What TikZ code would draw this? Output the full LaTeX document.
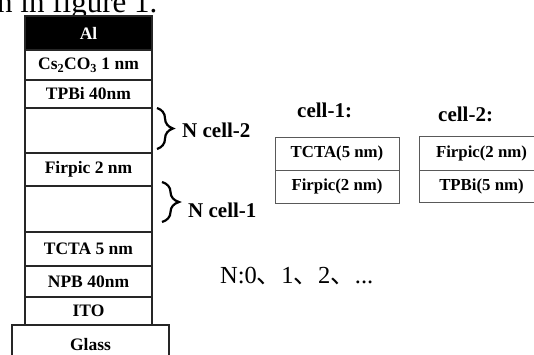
\documentclass[tikz,border=0pt]{standalone}
\usepackage{fontspec}
\setmainfont{Liberation Serif}
\newfontfamily\cjk{Noto Sans CJK SC}
\usetikzlibrary{decorations.pathreplacing}
\tikzset{
  layer/.style={draw=black!85, line width=1.3pt, minimum width=127pt, inner sep=0pt,
    font=\fontsize{17.5}{19}\selectfont\bfseries},
  cellbox/.style={draw=black!65, line width=1pt, minimum width=124pt, minimum height=33pt, inner sep=0pt,
    font=\fontsize{16.8}{18}\selectfont\bfseries},
  bracelab/.style={anchor=base west, inner sep=0pt, font=\fontsize{21}{24}\selectfont\bfseries},
  celllab/.style={anchor=base west, inner sep=0pt, font=\fontsize{21}{24}\selectfont\bfseries},
  brc/.style={decorate, decoration={brace, amplitude=16pt}, line width=2.2pt},
}
\begin{document}
\begin{tikzpicture}[x=1pt, y=-1pt]
\clip (0,0) rectangle (534,354);
\useasboundingbox (0,0) rectangle (534,354);
% partial text above
\node[anchor=base west, inner sep=0pt, font=\fontsize{31}{34}\selectfont] (top) at (-3,12) {n in figure 1.};
% stack
\node[layer, fill=black, text=white, minimum height=34pt] (al) at (88.5,33) {Al};
\node[layer, minimum height=30pt] (cs) at (88.5,65) {Cs\textsubscript{2}CO\textsubscript{3} 1 nm};
\node[layer, minimum height=28pt] (tpbi) at (88.5,94) {TPBi 40nm};
\node[layer, minimum height=45pt] (e2) at (88.5,130.5) {};
\node[layer, minimum height=33pt] (firpic) at (88.5,169.5) {Firpic 2 nm};
\node[layer, minimum height=46pt] (e1) at (88.5,209) {};
\node[layer, minimum height=34pt] (tcta) at (88.5,249) {TCTA 5 nm};
\node[layer, minimum height=31pt] (npb) at (88.5,281.5) {NPB 40nm};
\node[layer, minimum height=28pt] (ito) at (88.5,311) {ITO};
\node[layer, minimum width=157pt, minimum height=40pt, text depth=0pt] (glass) at (90.5,345) {\raisebox{2pt}{Glass}};
% braces
\coordinate (b2a) at (157,108);
\coordinate (b2b) at (157,149);
\coordinate (b1a) at (162,182);
\coordinate (b1b) at (162,222);
\draw[brc] (b2a) -- (b2b);
\draw[brc, decoration={brace, amplitude=17pt}] (b1a) -- (b1b);
\node[bracelab] (n2) at (182,137) {N cell-2};
\node[bracelab] (n1) at (188,217) {N cell-1};
% cells
\node[celllab] (c1lab) at (297,117) {cell-1:};
\node[celllab] (c2lab) at (438,121) {cell-2:};
\node[cellbox] (c1a) at (337,153.5) {TCTA(5 nm)};
\node[cellbox] (c1b) at (337,186.5) {Firpic(2 nm)};
\node[cellbox, minimum width=125pt, minimum height=34pt] (c2a) at (481.5,153) {Firpic(2 nm)};
\node[cellbox, minimum width=125pt, minimum height=32pt] (c2b) at (481.5,186) {TPBi(5 nm)};
% N list
\node[anchor=base west, inner sep=0pt, font=\fontsize{24.5}{27}\selectfont] (nlist) at (220,283)
  {N:0{\cjk 、}1{\cjk 、}2{\cjk 、}...};
\end{tikzpicture}
\end{document}
